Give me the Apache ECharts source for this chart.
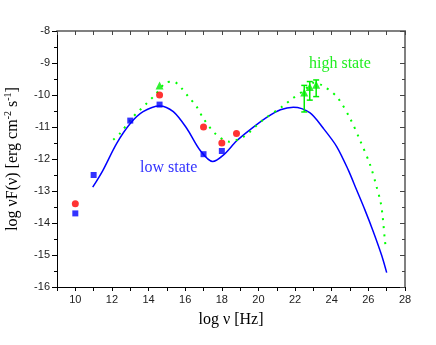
<!DOCTYPE html>
<html>
<head>
<meta charset="utf-8">
<script src="https://cdn.jsdelivr.net/npm/echarts@6/dist/echarts.min.js"></script>
<style>
  html, body { margin: 0; padding: 0; background: #fff; }
  #chart { width: 436px; height: 345px; }
</style>
</head>
<body>
<div id="chart"></div>
<script>
// observed points, log nu [Hz] vs log nuF(nu)
const lowStateX = [10, 11, 13, 14.6, 17, 18];
const lowStateY = [-13.7, -12.5, -10.8, -10.3, -11.85, -11.75];
const midStateX = [10, 14.6, 17, 18, 18.8];
const midStateY = [-13.4, -10.0, -11.0, -11.5, -11.2];
const highStateX = [14.6, 22.5, 22.8, 23.15];
const highStateY = [-9.7, -9.92, -9.75, -9.68];

// error bars of the gamma-ray high state points
const errX = [22.5, 22.8, 23.15];
const errLow = [-10.53, -10.16, -10.05];
const errHigh = [-9.7, -9.58, -9.53];

// model curves
const lowModel = [
  [10.95, -12.88], [11.5, -12.36], [12.26, -11.51], [13.0, -10.89], [13.7, -10.52],
  [14.6, -10.34], [15.35, -10.52], [16.08, -11.04], [16.8, -11.72], [17.5, -12.08],
  [18.08, -11.88], [18.8, -11.44], [19.53, -11.09], [20.45, -10.7], [21.2, -10.46],
  [21.9, -10.38], [22.8, -10.55], [23.54, -11.04], [24.27, -11.61], [24.9, -12.34],
  [25.36, -12.97], [25.81, -13.59], [26.27, -14.27], [26.72, -15.0], [27.0, -15.55],
];
const highModel = [
  [12.07, -11.4], [12.44, -11.2], [13.08, -10.73], [13.53, -10.47], [13.9, -10.26],
  [14.35, -10.0], [14.99, -9.6], [15.35, -9.58], [15.8, -9.79], [16.17, -10.05],
  [16.62, -10.36], [16.99, -10.73], [17.63, -11.2], [18.4, -11.46], [19.2, -11.3],
  [20.2, -10.8], [21.35, -10.34], [21.81, -10.13], [22.5, -9.85], [23.0, -9.62],
  [23.45, -9.69], [24.27, -10.05], [25.0, -10.73], [25.54, -11.41], [26.1, -12.19],
  [26.45, -12.87], [26.67, -13.35], [26.78, -13.8], [26.9, -14.53], [26.97, -14.85],
];

const BLUE = '#0000ff';
const RED = '#ff0000';
const GREEN = '#00ee00';
const SERIF = '"Liberation Serif", "DejaVu Serif", serif';
const SANS = '"Liberation Sans", Arial, sans-serif';

const zip = (xs, ys) => xs.map((x, i) => [x, ys[i]]);

const chart = echarts.init(document.getElementById('chart'));

chart.setOption({
  animation: false,
  grid: { left: 57, top: 31, width: 348, height: 256, outerBoundsMode: 'none', containLabel: false },
  xAxis: [
    {
      type: 'value',
      min: 9,
      max: 28,
      interval: 1,
      name: 'log ν [Hz]',
      nameLocation: 'middle',
      nameGap: 25,
      nameTextStyle: { fontFamily: SERIF, fontSize: 16, color: '#000' },
      axisLine: { lineStyle: { color: '#000', width: 1 } },
      axisTick: { inside: false, length: 4, lineStyle: { color: '#000' } },
      axisLabel: {
        margin: 7,
        fontFamily: SANS,
        fontSize: 11,
        color: '#222',
        formatter: (v) => (v % 2 === 0 ? String(v) : ''),
      },
      splitLine: { show: false },
    },
    {
      type: 'value',
      position: 'top',
      min: 9,
      max: 28,
      interval: 1,
      axisLine: { show: true, lineStyle: { color: '#808080', width: 2 } },
      axisTick: { inside: true, length: 4, lineStyle: { color: '#444' } },
      axisLabel: { show: false },
      splitLine: { show: false },
    },
  ],
  yAxis: [
    {
      type: 'value',
      min: -16,
      max: -8,
      interval: 1,
      name: '{t|log νF(ν) [erg cm}{s|-2}{t| s}{s|-1}{t|]}',
      nameLocation: 'middle',
      nameGap: 34,
      nameTextStyle: {
        rich: {
          t: { fontFamily: SERIF, fontSize: 16, color: '#000', lineHeight: 20 },
          s: { fontFamily: SERIF, fontSize: 10, color: '#000', verticalAlign: 'top', lineHeight: 10 },
        },
      },
      axisLine: { show: true, lineStyle: { color: '#000', width: 1 } },
      axisTick: { show: true, inside: false, length: 5, lineStyle: { color: '#000' } },
      minorTick: { show: true, splitNumber: 2, length: 3, lineStyle: { color: '#000' } },
      axisLabel: { margin: 7, fontFamily: SANS, fontSize: 11, color: '#222' },
      splitLine: { show: false },
      minorSplitLine: { show: false },
    },
    {
      type: 'value',
      position: 'right',
      min: -16,
      max: -8,
      interval: 1,
      axisLine: { show: true, lineStyle: { color: '#808080', width: 2 } },
      axisTick: { show: true, inside: true, length: 5, lineStyle: { color: '#444' } },
      minorTick: { show: true, splitNumber: 2, length: 3, lineStyle: { color: '#444' } },
      axisLabel: { show: false },
      splitLine: { show: false },
    },
  ],
  graphic: [
    {
      type: 'text', left: 140, top: 160,
      style: { text: 'low state', font: '16px ' + SERIF, fill: '#3333ff' },
    },
    {
      type: 'text', left: 309, top: 56,
      style: { text: 'high state', font: '16px ' + SERIF, fill: '#22ee22' },
    },
  ],
  series: [
    {
      name: 'low model',
      type: 'line',
      data: lowModel,
      smooth: 0.3,
      showSymbol: false,
      lineStyle: { color: BLUE, width: 1.5 },
      z: 2,
    },
    {
      name: 'high model',
      type: 'line',
      data: highModel,
      smooth: 0.3,
      showSymbol: false,
      lineStyle: { color: '#00ff00', width: 2, type: [2, 6] },
      z: 2,
    },
    {
      name: 'high state errors',
      type: 'custom',
      data: errX.map((x, i) => [x, errLow[i], errHigh[i]]),
      encode: { x: 0, y: [1, 2] },
      renderItem: (params, api) => {
        const top = api.coord([api.value(0), api.value(2)]);
        const bot = api.coord([api.value(0), api.value(1)]);
        const style = { stroke: GREEN, lineWidth: 1.5 };
        const cap = 3;
        return {
          type: 'group',
          children: [
            { type: 'line', shape: { x1: top[0], y1: top[1], x2: bot[0], y2: bot[1] }, style },
            { type: 'line', shape: { x1: top[0] - cap, y1: top[1], x2: top[0] + cap, y2: top[1] }, style },
            { type: 'line', shape: { x1: bot[0] - cap, y1: bot[1], x2: bot[0] + cap, y2: bot[1] }, style },
          ],
        };
      },
      z: 3,
    },
    {
      name: 'low state',
      type: 'scatter',
      data: zip(lowStateX, lowStateY),
      symbol: 'rect',
      symbolSize: 6,
      itemStyle: { color: BLUE },
      z: 4,
    },
    {
      name: 'mid state',
      type: 'scatter',
      data: zip(midStateX, midStateY),
      symbol: 'circle',
      symbolSize: 7,
      itemStyle: { color: RED },
      z: 4,
    },
    {
      name: 'high state',
      type: 'scatter',
      data: zip(highStateX, highStateY),
      symbol: 'triangle',
      symbolSize: 8,
      itemStyle: { color: GREEN },
      z: 4,
    },
  ],
});
</script>
</body>
</html>
